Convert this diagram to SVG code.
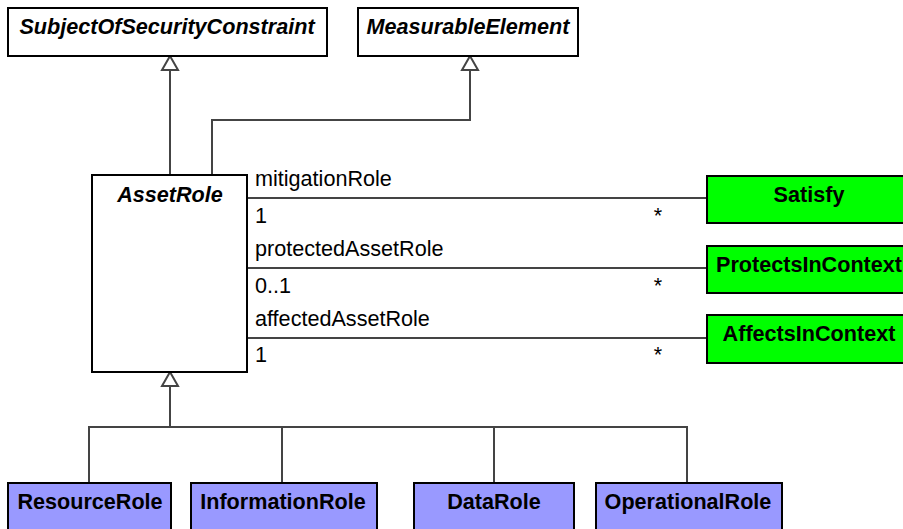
<svg xmlns="http://www.w3.org/2000/svg" width="903" height="529" viewBox="0 0 903 529">
<style>
.box{fill:#fff;stroke:#000;stroke-width:2}
.green{fill:#00ff00;stroke:#000;stroke-width:2}
.purple{fill:#9999ff;stroke:#000;stroke-width:2}
.t{font-family:"Liberation Sans",Arial,sans-serif;font-size:21.6px;fill:#000}
.bi{font-weight:bold;font-style:italic;text-anchor:middle}
.b{font-weight:bold;text-anchor:middle}
.c{fill:none;stroke:#444;stroke-width:2}
.tri{fill:#fff;stroke:#444;stroke-width:2}
.m{text-anchor:middle}
</style>
<rect width="903" height="529" fill="#fff"/>
<g id="connectors">
<path class="c" d="M170,70 V175"/>
<path class="c" d="M470,70 V120 H212 V175"/>
<polygon class="tri" points="170,56 162,70 178,70"/>
<polygon class="tri" points="470,56 462,70 478,70"/>
<path class="c" d="M247,198 H707"/>
<path class="c" d="M247,268 H707"/>
<path class="c" d="M247,338 H707"/>
<path class="c" d="M170,386 V427 M89,483 V427 H687 V483 M282,427 V483 M494,427 V483"/>
<polygon class="tri" points="170,372 162,386 178,386"/>
<text class="t" x="255" y="186">mitigationRole</text>
<text class="t" x="255" y="223">1</text>
<text class="t m" x="658" y="223">*</text>
<text class="t" x="255" y="256">protectedAssetRole</text>
<text class="t" x="255" y="293">0..1</text>
<text class="t m" x="658" y="293">*</text>
<text class="t" x="255" y="326">affectedAssetRole</text>
<text class="t" x="255" y="362">1</text>
<text class="t m" x="658" y="362">*</text>
</g>
<g id="SubjectOfSecurityConstraint">
<rect class="box" x="8" y="8" width="319" height="48"/>
<text class="t bi" x="167" y="34">SubjectOfSecurityConstraint</text>
</g>
<g id="MeasurableElement">
<rect class="box" x="358" y="8" width="220" height="48"/>
<text class="t bi" x="468" y="34">MeasurableElement</text>
</g>
<g id="AssetRole">
<rect class="box" x="92" y="175" width="155" height="197"/>
<text class="t bi" x="170" y="202">AssetRole</text>
</g>
<g id="Satisfy">
<rect class="green" x="707" y="176" width="204" height="47"/>
<text class="t b" x="809" y="202">Satisfy</text>
</g>
<g id="ProtectsInContext">
<rect class="green" x="707" y="246" width="204" height="47"/>
<text class="t b" x="809" y="272">ProtectsInContext</text>
</g>
<g id="AffectsInContext">
<rect class="green" x="707" y="315" width="204" height="48"/>
<text class="t b" x="809" y="341">AffectsInContext</text>
</g>
<g id="ResourceRole">
<rect class="purple" x="8" y="483" width="163" height="60"/>
<text class="t b" x="90" y="509">ResourceRole</text>
</g>
<g id="InformationRole">
<rect class="purple" x="191" y="483" width="186" height="60"/>
<text class="t b" x="283" y="509">InformationRole</text>
</g>
<g id="DataRole">
<rect class="purple" x="414" y="483" width="160" height="60"/>
<text class="t b" x="494" y="509">DataRole</text>
</g>
<g id="OperationalRole">
<rect class="purple" x="596" y="483" width="186" height="60"/>
<text class="t b" x="688" y="509">OperationalRole</text>
</g>
</svg>
